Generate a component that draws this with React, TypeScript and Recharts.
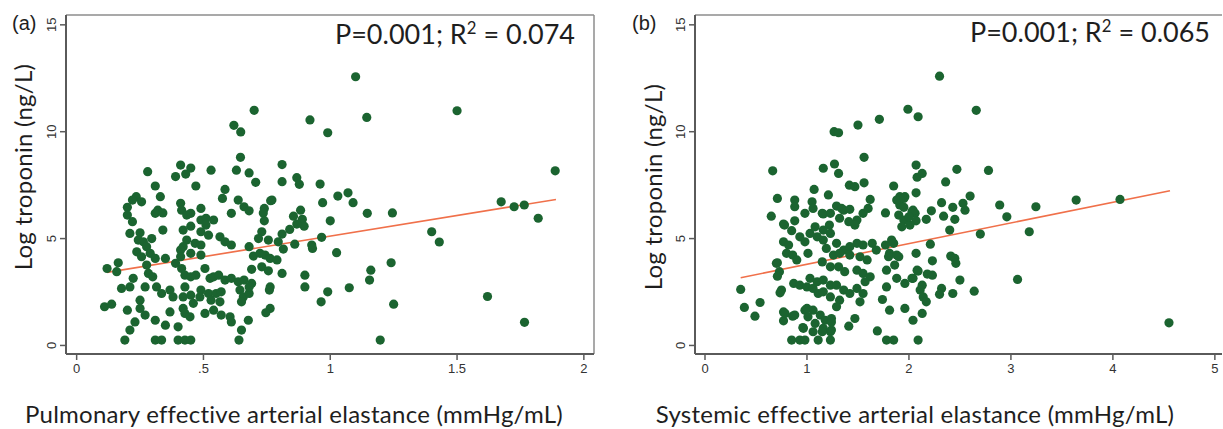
import React from "react";
import { ReferenceLine, Scatter, ScatterChart, XAxis, YAxis } from "recharts";

// Panel (a): pulmonary Ea vs log troponin
const pulmonaryPoints: [number, number][] = [
  [0.646, 8.8], [0.28, 8.13], [0.41, 8.44], [0.45, 8.3], [0.43, 8.02], [0.39, 7.9], [0.53, 8.2], [0.63, 8.2],
  [0.68, 8.07], [0.31, 7.46], [0.47, 7.46], [0.585, 7.3], [0.33, 6.96], [0.235, 6.96], [0.22, 6.8], [0.256, 6.72],
  [0.575, 6.88], [0.637, 6.8], [0.66, 6.49], [0.68, 6.3], [0.2, 6.46], [0.2, 6.1], [0.22, 5.79], [0.41, 6.65],
  [0.414, 6.33], [0.434, 6.1], [0.45, 6.18], [0.32, 6.33], [0.31, 6.18], [0.34, 6.2], [0.49, 6.41], [0.61, 6.18],
  [0.49, 5.87], [0.51, 5.95], [0.54, 5.87], [0.51, 5.63], [0.34, 5.4], [0.45, 5.58], [0.42, 5.4], [0.21, 5.24],
  [0.25, 5.27], [0.49, 5.32], [0.52, 5.16], [0.565, 5.08], [0.585, 4.85], [0.61, 4.7], [0.243, 4.93], [0.263, 4.85],
  [0.296, 5.0], [0.276, 4.62], [0.434, 4.93], [0.467, 4.78], [0.49, 4.7], [0.42, 4.62], [0.237, 4.38], [0.256, 4.15],
  [0.29, 4.31], [0.31, 4.07], [0.35, 4.07], [0.41, 4.46], [0.41, 4.15], [0.45, 4.31], [0.49, 4.23], [0.164, 3.87],
  [0.12, 3.6], [0.158, 3.45], [0.276, 3.76], [0.283, 3.37], [0.3, 3.21], [0.39, 3.84], [0.414, 3.6], [0.427, 3.29],
  [0.506, 3.6], [0.47, 3.29], [0.45, 3.21], [0.526, 3.14], [0.54, 3.21], [0.56, 3.29], [0.585, 3.06], [0.61, 3.14],
  [0.637, 2.98], [0.66, 3.06], [0.69, 2.9], [0.69, 3.56], [0.223, 3.14], [0.21, 2.74], [0.177, 2.67], [0.27, 2.74],
  [0.315, 2.74], [0.335, 2.43], [0.368, 2.59], [0.38, 2.27], [0.427, 2.74], [0.42, 2.27], [0.45, 2.35], [0.49, 2.59],
  [0.52, 2.43], [0.486, 2.27], [0.53, 2.12], [0.55, 2.43], [0.57, 2.51], [0.565, 2.04], [0.644, 2.59], [0.657, 2.27],
  [0.68, 2.43], [0.11, 1.81], [0.138, 1.93], [0.2, 1.65], [0.25, 2.12], [0.25, 1.73], [0.27, 1.42], [0.31, 1.18],
  [0.35, 0.95], [0.368, 1.57], [0.42, 1.73], [0.427, 1.5], [0.447, 1.34], [0.46, 1.97], [0.506, 1.5], [0.54, 1.65],
  [0.57, 1.42], [0.605, 1.34], [0.61, 1.1], [0.65, 2.04], [0.677, 1.18], [0.23, 1.1], [0.21, 0.72], [0.19, 0.25],
  [0.4, 0.87], [0.31, 0.25], [0.335, 0.25], [0.4, 0.25], [0.427, 0.25], [0.45, 0.25], [0.65, 0.72], [0.64, 0.25],
  [0.7, 11.0], [0.62, 10.3], [0.647, 9.99], [0.92, 10.55], [0.706, 7.63], [0.81, 8.46], [0.81, 7.66], [0.868, 7.85],
  [0.878, 7.54], [0.96, 7.55], [0.77, 6.8], [1.1, 12.57], [1.144, 10.67], [0.99, 9.95], [1.5, 10.98], [1.887, 8.17],
  [1.03, 6.99], [1.07, 7.14], [1.09, 6.68], [0.97, 6.68], [0.765, 6.77], [0.74, 6.41], [0.736, 6.2], [0.74, 5.83],
  [0.883, 6.33], [0.855, 6.05], [0.89, 5.9], [0.897, 5.58], [0.868, 5.68], [0.84, 5.43], [0.81, 5.21], [1.0, 5.83],
  [1.146, 6.18], [1.245, 6.2], [0.73, 5.32], [0.717, 5.0], [0.756, 4.93], [0.795, 4.85], [0.815, 4.51], [0.86, 4.74],
  [0.927, 4.7], [0.93, 4.54], [0.966, 5.06], [1.025, 4.34], [0.68, 4.62], [0.697, 4.18], [0.723, 4.31], [0.743, 4.23],
  [0.763, 4.07], [0.79, 4.0], [0.73, 3.68], [0.756, 3.49], [0.81, 3.37], [0.9, 3.29], [0.9, 2.74], [0.68, 2.74],
  [0.763, 2.74], [0.76, 2.59], [0.99, 2.51], [0.964, 2.04], [1.075, 2.7], [1.16, 3.52], [1.155, 3.06], [1.24, 3.87],
  [1.25, 1.93], [0.763, 1.73], [0.746, 1.53], [1.197, 0.25], [1.674, 6.72], [1.725, 6.49], [1.765, 6.57], [1.82, 5.95],
  [1.4, 5.32], [1.43, 4.84], [1.62, 2.29], [1.766, 1.08],
];

// Panel (b): systemic Ea vs log troponin
const systemicPoints: [number, number][] = [
  [0.664, 8.17], [0.71, 6.88], [1.16, 8.29], [1.27, 8.49], [1.31, 8.05], [1.266, 10.0], [1.31, 9.95], [1.5, 10.31],
  [1.71, 10.58], [1.56, 8.8], [1.416, 7.5], [1.47, 7.43], [1.56, 7.61], [1.07, 7.3], [1.21, 7.04], [1.85, 7.46],
  [1.91, 6.96], [1.96, 6.96], [1.99, 11.05], [2.09, 10.7], [2.07, 8.44], [2.08, 7.87], [2.07, 7.14], [1.62, 6.83],
  [2.3, 12.6], [2.66, 11.0], [2.13, 8.05], [2.36, 7.65], [2.47, 8.24], [2.78, 8.19], [2.6, 6.99], [3.64, 6.8],
  [4.07, 6.83], [2.32, 6.68], [2.43, 6.46], [2.53, 6.65], [2.55, 6.33], [2.22, 6.3], [2.17, 5.9], [2.34, 6.05],
  [2.45, 5.9], [2.4, 5.4], [2.89, 6.57], [2.96, 6.02], [3.245, 6.49], [3.18, 5.32], [2.7, 5.21], [2.06, 6.18],
  [2.07, 5.83], [2.21, 4.74], [2.07, 4.31], [2.23, 3.96], [2.41, 4.18], [2.45, 4.07], [2.46, 3.84], [2.09, 3.48],
  [2.18, 3.34], [2.23, 3.29], [2.04, 3.14], [2.5, 3.06], [2.64, 2.54], [2.13, 2.82], [2.11, 2.59], [2.14, 2.27],
  [2.17, 2.04], [2.32, 2.67], [2.3, 2.39], [2.43, 2.43], [3.065, 3.09], [2.13, 1.5], [2.04, 1.18], [2.09, 0.25],
  [4.55, 1.06], [0.35, 2.62], [0.386, 1.78], [0.54, 2.01], [0.49, 1.37], [0.65, 6.05], [0.77, 5.68], [0.85, 5.37],
  [0.71, 3.87], [0.73, 3.45], [0.71, 3.24], [0.75, 2.59], [0.736, 2.46], [0.77, 1.57], [0.86, 1.37], [0.77, 1.15],
  [0.96, 0.84], [0.85, 0.25], [0.93, 0.25], [0.98, 0.25], [1.11, 0.25], [1.23, 0.25], [0.88, 6.8], [1.05, 6.72],
  [1.06, 6.41], [1.16, 6.15], [1.23, 6.18], [1.29, 6.52], [1.36, 6.33], [1.42, 6.37], [1.32, 5.95], [1.41, 5.79],
  [1.49, 5.87], [1.55, 6.18], [1.6, 6.41], [1.47, 5.63], [0.77, 4.85], [0.82, 4.7], [0.8, 4.31], [0.86, 4.23],
  [0.9, 4.0], [1.01, 4.31], [0.98, 4.85], [0.93, 5.08], [1.03, 5.24], [1.1, 5.08], [1.16, 4.93], [1.23, 5.24],
  [1.19, 4.54], [1.08, 5.55], [1.16, 5.4], [1.22, 5.63], [1.29, 4.78], [1.36, 4.46], [1.42, 4.62], [1.49, 4.78],
  [1.55, 4.7], [1.64, 4.78], [1.68, 4.46], [1.26, 4.23], [1.32, 4.31], [1.42, 4.23], [1.52, 4.15], [1.59, 4.0],
  [1.15, 3.91], [1.23, 3.68], [1.31, 3.68], [1.37, 3.45], [1.49, 3.52], [1.55, 3.37], [1.62, 3.21], [1.57, 2.98],
  [0.87, 2.9], [0.93, 2.82], [1.0, 2.74], [1.06, 2.67], [1.11, 2.43], [1.16, 2.51], [1.03, 3.14], [1.1, 2.98],
  [1.16, 3.06], [1.23, 2.82], [1.29, 2.82], [1.36, 2.59], [1.42, 2.43], [1.49, 2.67], [1.55, 2.43], [1.23, 2.27],
  [1.32, 2.12], [1.29, 1.81], [1.0, 1.73], [1.06, 1.65], [1.13, 1.42], [1.18, 1.18], [1.24, 1.26], [1.16, 0.8],
  [1.23, 0.64], [1.47, 1.26], [1.41, 0.9], [1.69, 0.68], [1.78, 0.25], [1.85, 0.25], [1.77, 6.2], [1.77, 4.7],
  [1.85, 4.78], [1.81, 4.31], [1.88, 4.23], [1.78, 3.52], [1.88, 3.14], [1.96, 2.9], [2.03, 3.14], [2.08, 3.52],
  [1.74, 2.15], [1.81, 1.65], [1.96, 1.73], [1.9, 6.1], [1.95, 5.87], [2.03, 6.26], [2.01, 5.63], [1.91, 6.57],
  [0.88, 6.49], [0.98, 6.18], [1.15, 6.18], [1.34, 6.41], [0.78, 5.63], [0.88, 5.83], [0.7, 3.84], [0.785, 1.5],
  [0.88, 1.42], [0.98, 1.65], [1.01, 1.34], [1.08, 1.03], [0.965, 0.8], [1.06, 0.64], [1.15, 0.64], [1.24, 0.72],
  [1.24, 1.1], [1.88, 6.8], [1.95, 6.88], [1.95, 6.46], [2.04, 6.33], [2.0, 6.02], [1.93, 5.55], [1.83, 4.93],
  [1.8, 4.15], [1.9, 4.15], [1.86, 3.76], [1.78, 2.74], [1.52, 2.04],
];

// fitted line endpoints
const pulmonaryFit = [{ x: 0.12, y: 3.42 }, { x: 1.89, y: 6.83 }];
const systemicFit = [{ x: 0.35, y: 3.17 }, { x: 4.56, y: 7.24 }];

const pulmonaryTicks = [0, 0.5, 1, 1.5, 2];
const systemicTicks = [0, 1, 2, 3, 4, 5];
const yTicks = [0, 5, 10, 15];
const Y_DOMAIN: [number, number] = [-0.4, 15.46];

const DOT = "#1b6430";
const FIT = "#f0704a";
const TEXT = "#1e1e1e";
const AXIS = "#5a5a5a";
const FRAME = "#8c8c8c";
const SANS = "'Liberation Sans', Arial, sans-serif";
const TITLE = "Lato, 'Open Sans', sans-serif";

function fmtX(v: number) {
  return v === 0.5 ? ".5" : String(v);
}

function RotatedTick(props: any) {
  const { x, y, payload } = props;
  return (
    <text
      transform={`translate(${x - 7},${y}) rotate(-90)`}
      textAnchor="middle"
      dominantBaseline="central"
      fontSize={13}
      fontFamily={SANS}
      fill="#333"
    >
      {payload.value}
    </text>
  );
}

const dot = (props: any) => <circle cx={props.cx} cy={props.cy} r={4.6} fill={DOT} />;

interface PanelProps {
  points: [number, number][];
  fit: { x: number; y: number }[];
  xDomain: [number, number];
  xTicks: number[];
  width: number;
  marginLeft: number;
  marginRight: number;
  rightBorder: boolean;
}

function Panel({ points, fit, xDomain, xTicks, width, marginLeft, marginRight, rightBorder }: PanelProps) {
  const data = points.map(([x, y]) => ({ x, y }));
  return (
    <ScatterChart width={width} height={429} margin={{ top: 15, right: marginRight, bottom: 45, left: marginLeft }}>
      <XAxis
        type="number"
        dataKey="x"
        domain={xDomain}
        ticks={xTicks}
        allowDataOverflow
        tickFormatter={fmtX}
        height={30}
        tickSize={6}
        tickMargin={4}
        axisLine={false}
        tickLine={{ stroke: AXIS, strokeWidth: 1.5 }}
        tick={{ fontSize: 13, fontFamily: SANS, fill: "#333" }}
      />
      <YAxis
        type="number"
        dataKey="y"
        domain={Y_DOMAIN}
        ticks={yTicks}
        allowDataOverflow
        width={30}
        tickSize={6}
        tickMargin={2}
        axisLine={false}
        tickLine={{ stroke: AXIS, strokeWidth: 1.5 }}
        tick={<RotatedTick />}
      />
      {/* plot frame: light top/right, darker axes left/bottom */}
      <ReferenceLine y={Y_DOMAIN[1]} stroke={FRAME} strokeWidth={1.5} ifOverflow="visible" />
      {rightBorder && <ReferenceLine x={xDomain[1]} stroke={FRAME} strokeWidth={1.5} ifOverflow="visible" />}
      <ReferenceLine x={xDomain[0]} stroke={AXIS} strokeWidth={2} ifOverflow="visible" />
      <ReferenceLine y={Y_DOMAIN[0]} stroke={AXIS} strokeWidth={2} ifOverflow="visible" />
      <Scatter data={data} shape={dot} isAnimationActive={false} />
      <ReferenceLine segment={fit} stroke={FIT} strokeWidth={1.6} ifOverflow="visible" />
    </ScatterChart>
  );
}

const abs = (style: React.CSSProperties): React.CSSProperties => ({ position: "absolute", whiteSpace: "nowrap", color: TEXT, ...style });

function Stat({ r2 }: { r2: string }) {
  return (
    <>
      P=0.001; R<span style={{ fontSize: "0.62em", verticalAlign: "super", lineHeight: 0 }}>2</span> = {r2}
    </>
  );
}

const titleStyle: React.CSSProperties = { fontSize: 24, letterSpacing: 0.25, fontFamily: TITLE, lineHeight: "28px" };

export default function App() {
  return (
    <div style={{ position: "absolute", left: 0, top: 0, width: 1223, height: 429, background: "#fff", overflow: "hidden" }}>
      <div style={{ position: "absolute", left: 0, top: 0 }}>
        <Panel
          points={pulmonaryPoints}
          fit={pulmonaryFit}
          xDomain={[-0.042, 2.04]}
          xTicks={pulmonaryTicks}
          width={600}
          marginLeft={36}
          marginRight={6}
          rightBorder
        />
      </div>
      <div style={{ position: "absolute", left: 610, top: 0 }}>
        <Panel
          points={systemicPoints}
          fit={systemicFit}
          xDomain={[-0.098, 5.07]}
          xTicks={systemicTicks}
          width={613}
          marginLeft={55}
          marginRight={1}
          rightBorder={false}
        />
      </div>

      <div style={abs({ left: 12, top: 12, fontSize: 20, fontFamily: SANS, lineHeight: "22px" })}>(a)</div>
      <div style={abs({ left: 632, top: 12, fontSize: 20, fontFamily: SANS, lineHeight: "22px" })}>(b)</div>

      <div style={abs({ right: 1223 - 575, top: 18, fontSize: 27, fontFamily: TITLE, lineHeight: "32px" })}>
        <Stat r2="0.074" />
      </div>
      <div style={abs({ right: 1223 - 1210, top: 16, fontSize: 27, fontFamily: TITLE, lineHeight: "32px" })}>
        <Stat r2="0.065" />
      </div>

      <div style={abs({ ...titleStyle, left: 23, top: 167, transform: "translate(-50%,-50%) rotate(-90deg)" })}>
        Log troponin (ng/L)
      </div>
      <div style={abs({ ...titleStyle, left: 653, top: 187, transform: "translate(-50%,-50%) rotate(-90deg)" })}>
        Log troponin (ng/L)
      </div>

      <div style={abs({ ...titleStyle, left: 294, top: 414, transform: "translate(-50%,-50%)" })}>
        Pulmonary effective arterial elastance (mmHg/mL)
      </div>
      <div style={abs({ ...titleStyle, left: 915, top: 414, transform: "translate(-50%,-50%)" })}>
        Systemic effective arterial elastance (mmHg/mL)
      </div>
    </div>
  );
}
